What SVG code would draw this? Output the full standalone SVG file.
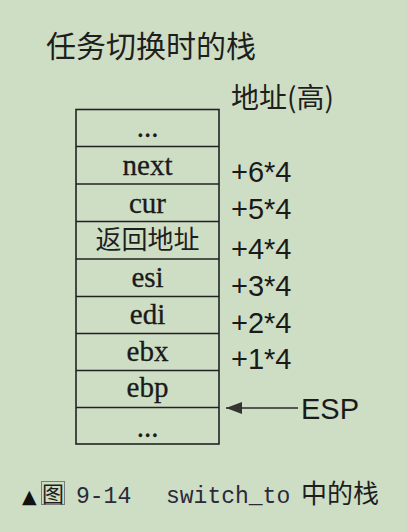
<svg xmlns="http://www.w3.org/2000/svg" width="407" height="532" viewBox="0 0 407 532">
<defs>
<style>
.cell{fill:none;stroke:#222;stroke-width:1.6}
.lbl{font-family:"Liberation Serif",serif;font-size:29px;fill:#1a1a1a;stroke:#1a1a1a;stroke-width:0.3;text-anchor:middle}
.cjk{font-family:"Noto Sans CJK SC",sans-serif;fill:#1e1e1e}
.off{font-family:"Liberation Sans",sans-serif;font-size:29px;fill:#1a1a1a}
.cap{font-family:"Liberation Mono",monospace;font-size:23px;fill:#2a2a3a}
</style>
<marker id="ah" viewBox="0 0 16 12" refX="16" refY="6" markerWidth="16" markerHeight="12" markerUnits="userSpaceOnUse" orient="auto">
<path d="M0,0 L16,6 L0,12 Z" fill="#333"/>
</marker>
</defs>
<rect width="407" height="532" fill="#cedec4"/>
<text class="cjk" x="46" y="57" font-size="30">任务切换时的栈</text>
<text class="cjk" x="231" y="108" font-size="28">地址(高)</text>
<g id="stack">
<rect class="cell" x="76" y="109.5" width="143" height="334.5"/>
<g id="row0"><text class="lbl" x="147.5" y="137">...</text></g>
<g id="row1"><line class="cell" x1="76" y1="146.5" x2="219" y2="146.5"/><text class="lbl" x="147.5" y="175">next</text></g>
<g id="row2"><line class="cell" x1="76" y1="184" x2="219" y2="184"/><text class="lbl" x="147.5" y="213">cur</text></g>
<g id="row3"><line class="cell" x1="76" y1="221.5" x2="219" y2="221.5"/><text class="cjk" x="147.5" y="249" font-size="26" text-anchor="middle">返回地址</text></g>
<g id="row4"><line class="cell" x1="76" y1="259" x2="219" y2="259"/><text class="lbl" x="147.5" y="287">esi</text></g>
<g id="row5"><line class="cell" x1="76" y1="296.5" x2="219" y2="296.5"/><text class="lbl" x="147.5" y="324">edi</text></g>
<g id="row6"><line class="cell" x1="76" y1="333.5" x2="219" y2="333.5"/><text class="lbl" x="147.5" y="361">ebx</text></g>
<g id="row7"><line class="cell" x1="76" y1="370.5" x2="219" y2="370.5"/><text class="lbl" x="147.5" y="397">ebp</text></g>
<g id="row8"><line class="cell" x1="76" y1="407.5" x2="219" y2="407.5"/><text class="lbl" x="147.5" y="437">...</text></g>
</g>
<g id="offsets">
<text class="off" x="231" y="182">+6*4</text>
<text class="off" x="231" y="219">+5*4</text>
<text class="off" x="231" y="259">+4*4</text>
<text class="off" x="231" y="296">+3*4</text>
<text class="off" x="231" y="333">+2*4</text>
<text class="off" x="231" y="369">+1*4</text>
</g>
<g id="connectors">
<line x1="298" y1="408" x2="226" y2="408" stroke="#555" stroke-width="2" marker-end="url(#ah)"/>
</g>
<g id="esp"><text class="off" x="301" y="419" font-size="29.5">ESP</text></g>
<g id="caption">
<text x="22" y="503" font-family="DejaVu Sans,sans-serif" font-size="19" fill="#111">▲</text>
<rect x="41.5" y="481.5" width="23" height="23" fill="none" stroke="#7a7a7a" stroke-width="1"/>
<text class="cjk" x="42" y="502" font-size="22">图</text>
<text class="cap" x="76" y="503">9-14</text>
<text class="cap" x="166" y="503">switch_to</text>
<text class="cjk" x="301" y="503" font-size="26" fill="#2a2010">中的栈</text>
</g>
</svg>
